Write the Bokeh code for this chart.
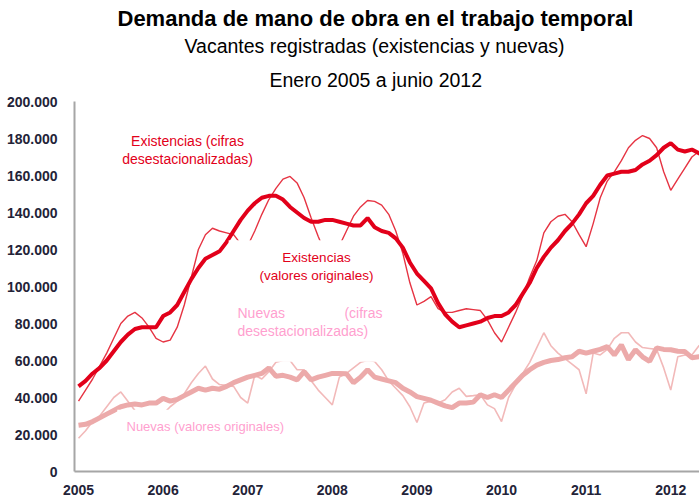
from bokeh.plotting import figure
from bokeh.models import Range1d, FixedTicker, Label, BoxAnnotation, Title
from bokeh.embed import file_html
from bokeh.resources import INLINE

# ---------------- data (thousands of vacancies, monthly Jan 2005 .. Jun 2012) -------------
months = list(range(90))
year_ticks = [0, 12, 24, 36, 48, 60, 72, 84]
year_labels = ["2005", "2006", "2007", "2008", "2009", "2010", "2011", "2012"]
y_ticks = [0, 20000, 40000, 60000, 80000, 100000, 120000, 140000, 160000, 180000, 200000]
y_tick_labels = ["0", "20.000", "40.000", "60.000", "80.000", "100.000", "120.000",
                 "140.000", "160.000", "180.000", "200.000"]

exist_sa = [46, 49, 53, 56, 60, 65, 70, 74, 77, 78, 78, 78,
            84, 86, 90, 97, 104, 110, 115, 117, 119, 124, 130, 136,
            141, 145, 148, 149, 149, 147, 143, 140, 137, 135, 135, 136,
            136, 135, 134, 133, 133, 137, 132, 130, 129, 126, 121, 113,
            107, 103, 99, 91, 85, 81, 78, 79, 80, 81, 83, 84,
            84, 86, 90, 96, 102, 110, 116, 121, 125, 130, 134, 139,
            145, 149, 155, 160, 161, 162, 162, 163, 166, 168, 171, 175,
            177.5, 174, 173, 174, 172, 171]
exist_orig = [38, 44, 50, 57, 64, 72, 80, 84, 86, 83, 78, 72,
              70, 71, 78, 90, 105, 120, 128, 131.5, 130, 129, 128, 123,
              122, 130, 139, 147, 153, 158, 159.5, 156, 148, 137, 127, 118,
              114, 122, 130, 138, 143, 146.5, 146, 144, 139, 130, 118, 102,
              90, 92, 94.5, 88, 86, 86, 87, 88, 87.5, 87, 82, 75,
              70, 78, 86, 95, 105, 114, 129, 135, 138, 139, 135, 128,
              121.5, 134, 148, 157, 162, 168, 175, 179, 181.6, 180, 175, 162,
              152, 158, 164, 170, 173, 174]
nuevas_sa = [25, 25.5, 27, 29, 31, 33, 35, 36, 36.5, 36, 37, 37,
             39.5, 38, 39, 41, 43, 45, 44, 45, 44.5, 46, 48, 49.5,
             51, 52, 53, 56, 51.5, 52, 51, 49.5, 54, 49.5, 51, 52,
             53, 53, 52.8, 48, 51, 55, 51, 50, 49, 48, 45, 43,
             40.5, 39.5, 38.5, 37, 35.5, 34.5, 37, 37, 37.5, 41.5, 40, 41.5,
             40, 44, 48, 52, 55, 57.5, 59, 60, 60.5, 61.5, 62, 65,
             64, 65, 66, 67.5, 63, 68.4, 60.5, 65.8, 62, 59.5, 66.8, 66,
             65.8, 65, 64.8, 61.5, 62, 62]
nuevas_orig = [18, 22, 27, 30, 35, 40, 43, 38, 33, 31, 30, 30,
               31, 35, 38, 42, 48, 53, 57, 50, 47, 46.5, 46, 40,
               37, 52, 50, 54, 59, 60, 60, 55, 55, 49, 44, 40,
               36, 51, 53, 56, 59, 60, 59.5, 55, 49, 45, 41, 35,
               26.5, 37, 38, 37, 38.8, 43, 45, 40.6, 41, 41.5, 36, 34,
               27, 40, 47, 53, 59, 67, 75, 68, 64, 61, 58, 55,
               42, 64, 63, 66, 72, 75, 75, 70, 67, 66.5, 66, 56,
               44, 62, 63, 63, 68, 69]

scale = 1000
exist_sa_v = [v * scale for v in exist_sa]
exist_orig_v = [v * scale for v in exist_orig]
nuevas_sa_v = [v * scale for v in nuevas_sa]
nuevas_orig_v = [v * scale for v in nuevas_orig]

RED = "#e2001a"
RED_THIN = "#e63443"
PINK_THICK = "#ecaaaa"
PINK_THIN = "#f2b9b9"
PINK_TEXT = "#ff9fcf"
FONT = "Liberation Sans"

p = figure(width=699, height=497, x_range=Range1d(-0.57, 88.08), y_range=Range1d(0, 200000),
           output_backend="svg", toolbar_location=None,
           min_border_left=74, min_border_right=0, min_border_top=101, min_border_bottom=25)
p.outline_line_color = None
p.xgrid.grid_line_color = None
p.ygrid.grid_line_color = None
p.background_fill_color = "white"
p.border_fill_color = "white"

# lines
p.line(months, nuevas_orig_v, line_color=PINK_THIN, line_width=1.6)
p.line(months, nuevas_sa_v, line_color=PINK_THICK, line_width=5)
p.line(months, exist_orig_v, line_color=RED_THIN, line_width=1.4)
p.line(months, exist_sa_v, line_color=RED, line_width=4)

# white label boxes that cover parts of the lines
p.add_layout(BoxAnnotation(left=21.3, right=37.6, bottom=97000, top=125000,
                           fill_color="white", fill_alpha=1, line_color=None))
p.add_layout(BoxAnnotation(left=21.4, right=43.7, bottom=59300, top=93800,
                           fill_color="white", fill_alpha=1, line_color=None))
p.add_layout(BoxAnnotation(left=5.5, right=30.1, bottom=12000, top=33400,
                           fill_color="white", fill_alpha=1, line_color=None))

# axes
for ax in (p.xaxis[0], p.yaxis[0]):
    ax.axis_line_color = "#a6a6a6"
    ax.axis_line_width = 2
    ax.major_tick_line_color = None
    ax.minor_tick_line_color = None
    ax.major_label_text_font = FONT
    ax.major_label_text_font_style = "bold"
    ax.major_label_text_color = "#232338"

p.yaxis.ticker = FixedTicker(ticks=y_ticks)
p.yaxis.major_label_overrides = {t: l for t, l in zip(y_ticks, y_tick_labels)}
p.yaxis.major_label_text_font_size = "14px"
p.yaxis.major_label_standoff = 11

p.xaxis.ticker = FixedTicker(ticks=year_ticks)
p.xaxis.major_label_overrides = {t: l for t, l in zip(year_ticks, year_labels)}
p.xaxis.major_label_text_font_size = "14px"
p.xaxis.major_label_standoff = 7

# titles (stacked outward from the plot frame), left aligned with offsets to centre at x~375
p.add_layout(Title(text="Enero 2005 a junio 2012", align="left", offset=195,
                   text_font=FONT, text_font_size="19.5px", text_font_style="normal",
                   text_color="#000000", standoff=21), "above")
p.add_layout(Title(text="Vacantes registradas (existencias y nuevas)", align="left", offset=110,
                   text_font=FONT, text_font_size="19.5px", text_font_style="normal",
                   text_color="#000000", standoff=0, text_line_height=0.8), "above")
p.add_layout(Title(text="Demanda de mano de obra en el trabajo temporal", align="left", offset=43,
                   text_font=FONT, text_font_size="22px", text_font_style="bold",
                   text_color="#000000", standoff=3), "above")

# series labels (screen units relative to plot frame)
def slabel(text, x, y, size, color, align="center"):
    p.add_layout(Label(x=x, y=y, x_units="screen", y_units="screen", text=text,
                       text_font=FONT, text_font_size=size, text_color=color,
                       text_align=align, text_baseline="middle"))

slabel("Existencias (cifras", 113, 331, "14px", RED)
slabel("desestacionalizadas)", 113, 313, "14px", RED)
slabel("Existencias", 242, 214, "13.5px", RED)
slabel("(valores originales)", 242, 196, "13.5px", RED)
slabel("Nuevas", 163, 159, "14px", PINK_TEXT, align="left")
slabel("(cifras", 308, 159, "14px", PINK_TEXT, align="right")
slabel("desestacionalizadas)", 163, 141, "14px", PINK_TEXT, align="left")
slabel("Nuevas (valores originales)", 52, 45, "13px", PINK_TEXT, align="left")

open("out.html", "w").write(file_html(p, INLINE))
